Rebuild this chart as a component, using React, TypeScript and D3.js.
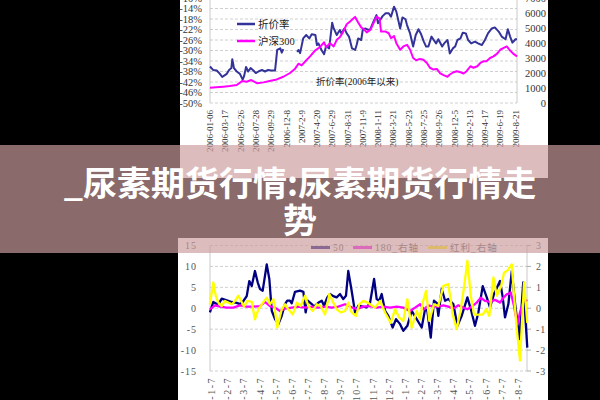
import { useEffect, useRef } from 'react';
import * as d3 from 'd3';

type Pt = [number, number];

// ---- top chart: weekly, week 0 = 2006-01-06 ----
const topDateLabels = [
  '2006-01-06', '2006-03-17', '2006-05-26', '2006-07-28', '2006-09-29',
  '2006-12-8', '2007-2-9', '2007-4-20', '2007-6-29', '2007-8-31',
  '2007-11-9', '2008-1-11', '2008-3-21', '2008-5-23', '2008-7-25',
  '2008-9-26', '2008-12-5', '2009-2-13', '2009-4-17', '2009-6-19', '2009-8-21',
];
const topLeftTicks = [-10, -14, -18, -22, -26, -30, -34, -38, -42, -46, -50];
const topRightTicks = [0, 1000, 2000, 3000, 4000, 5000, 6000, 7000];

// 折价率 [week, %] (null = gap)
const discountRate: (Pt | null)[] = [
  [0, -36.1], [2, -37.4], [4.4, -37.6], [6.5, -38.9], [8, -40.1], [9.5, -39.5],
  [11, -38.9], [12.5, -37.4], [14, -36.7], [14.6, -33.3], [15.7, -36.7], [17.5, -38],
  [19.6, -38.9], [21.4, -41.1], [22.3, -39.8], [23.6, -36.3], [25, -38], [26.6, -36.7],
  [28.4, -37.6], [30, -38.6], [31.7, -38], [34, -37.4], [36, -38], [38, -37.4],
  [40, -37.6], [42.6, -37.6], [44, -29.8], [46, -29.2], [47, -30.8], [48, -29.5],
  null,
  [57, -30.5], [58, -29.8], [59, -31], [61, -25.4], [63, -24.1], [65, -25.4],
  [66.6, -23.8], [69, -24.1], [70, -27.9], [71, -27.3], [73, -29.8], [74.7, -31.4],
  [76, -28.3], [78, -29.2], [80, -19.4], [81, -21.6], [83, -24.1], [85, -22.2],
  [86, -23.5], [88, -21.6], [89.5, -23.5], [91, -24.7], [93, -29.2], [95, -29.8],
  [96, -27.9], [97, -25.4], [99, -26], [100, -22.2], [101.5, -21.6], [104, -22.2],
  [105, -21.9], [107, -19], [109, -16.5], [110, -19.6], [113, -16.9], [115, -15.8],
  [117, -15.8], [118.5, -17.1], [120.5, -13.3], [122, -15.2], [124.5, -21.6], [126, -17.4],
  [128, -18.1], [129, -20.3], [131, -23.5], [133, -28.5], [134.7, -24.1], [136.5, -21.9],
  [138, -23.5], [140, -26.6], [141.5, -28.5], [143, -28.5], [145, -24.7], [146.5, -26],
  [148, -27.3], [149.5, -25.7], [152, -28.5], [153.3, -27.3], [155.5, -26], [157, -31.1],
  [159, -29.2], [160.5, -28.5], [162, -26], [164, -25.4], [165.5, -23.2], [167.5, -23.5],
  [169, -26], [171, -27.3], [173.5, -26.6], [175.5, -27.3], [178, -27.9], [180, -26],
  [182, -23.5], [184.5, -21.6], [186.5, -21.2], [189, -22.8], [191, -24.7], [193.5, -25.7],
  [195, -21.9], [196.5, -24.7], [198, -27], [200, -25.7], [201, -25.7],
];

// 沪深300 [week, index]
const hs300: Pt[] = [
  [0, 1020], [4, 1050], [8.7, 1087], [13, 1130], [17.5, 1200], [21, 1460], [24, 1420],
  [27, 1530], [31, 1310], [35, 1375], [39, 1460], [43.7, 1570], [48, 1750], [52.4, 2000],
  [55.7, 2290], [58, 2620], [60, 2510], [62, 2730], [65.5, 3110], [68.8, 3500], [72, 3720],
  [74.7, 4050], [76, 3720], [78.6, 3990], [81, 3770], [83, 4210], [85, 4380], [87, 4710],
  [89.5, 5250], [91.7, 5430], [93.5, 5600], [95, 5740], [97, 5370], [99, 5040], [101, 4900],
  [102.6, 4710], [105, 4870], [107, 5310], [109, 5750], [111, 5640], [112, 4760], [115, 4760],
  [117, 4650], [118.5, 4320], [120.5, 4470], [122, 3990], [124.5, 3550], [126.6, 3770],
  [129, 3880], [131, 3550], [133, 3000], [135, 2850], [137.5, 2940], [139.7, 2890],
  [142, 2670], [144, 2350], [146.3, 2230], [148.5, 2270], [150.7, 1970], [153.3, 1840],
  [155.5, 1750], [157, 1900], [159.4, 2050], [161.6, 2120], [164, 2050], [166, 1970],
  [168, 2120], [170.5, 2450], [172.5, 2350], [175, 2450], [177, 2670], [179, 2780],
  [181, 2780], [183.4, 3000], [185.6, 3110], [188, 3290], [190, 3550], [192, 3660],
  [194.3, 3770], [196, 3550], [198.5, 3290], [201, 3110],
];

// ---- bottom chart: monthly, month 0 = 2008-1-7 ----
const bottomDateLabels = [
  '2008-1-7', '2008-2-7', '2008-3-7', '2008-4-7', '2008-5-7', '2008-6-7', '2008-7-7',
  '2008-8-7', '2008-9-7', '2008-10-7', '2008-11-7', '2008-12-7', '2009-1-7', '2009-2-7',
  '2009-3-7', '2009-4-7', '2009-5-7', '2009-6-7', '2009-7-7', '2009-8-7',
];
const bottomLeftTicks = [15, 10, 5, 0, -5, -10, -15];
const bottomRightTicks = [3, 2, 1, 0, -1, -2, -3];
const bottomLegend = ['50', '180_右轴', '红利_右轴'];

// 50 [month, value] left axis
const idx50: Pt[] = [
  [-0.11, -1.0], [0.1, 1.5], [0.31, 1.0], [0.47, 1.3], [0.62, 2.3], [0.93, 1.9], [1.24, 1.5],
  [1.55, 1.3], [1.75, 1.0], [1.92, 1.5], [2.17, 2.9], [2.33, 6.5], [2.48, 5.3], [2.68, 8.9],
  [2.85, 6.2], [2.99, 4.6], [3.16, 4.2], [3.41, 10.5], [3.57, 7.0], [3.72, -0.6], [3.92, -2.6],
  [4.13, -3.8], [4.34, -1.8], [4.54, 1.0], [4.68, 1.8], [4.85, 1.8], [4.96, 1.2], [5.16, 3.9],
  [5.47, 4.2], [5.68, 3.9], [5.82, -1.0], [5.95, 1.8], [6.2, 1.0], [6.34, 0.4], [6.6, 1.3],
  [6.82, 1.8], [6.96, 0.6], [7.16, 2.6], [7.33, 3.4], [7.53, 2.9], [7.74, 2.6], [7.95, 3.4],
  [8.15, 2.2], [8.32, 3.0], [8.46, 8.9], [8.67, 4.2], [8.88, -1.0], [9.08, 0.6], [9.36, 0.4],
  [9.6, 0.2], [9.81, 1.3], [10.06, 7.0], [10.22, 2.2], [10.38, 1.8], [10.53, 3.4], [10.74, -0.6],
  [10.94, -1.8], [11.21, -4.6], [11.42, -2.6], [11.67, -3.8], [11.87, -5.4], [12.12, -4.2],
  [12.39, -0.6], [12.7, -2.6], [13.01, -4.6], [13.22, -0.2], [13.36, -0.6], [13.57, -7.0],
  [13.77, 1.8], [13.94, 1.3], [14.04, -1.8], [14.25, 4.6], [14.46, 1.8], [14.66, 2.2],
  [14.97, 1.0], [15.22, -4.2], [15.49, -1.8], [15.84, 2.6], [16.05, -0.2], [16.31, -4.2],
  [16.52, -1.0], [16.79, 5.3], [17.04, 2.6], [17.24, 0.2], [17.49, 3.4], [17.86, 6.5],
  [18.03, 2.6], [18.17, -2.2], [18.38, 1.0], [18.59, 8.9], [18.79, 1.3], [19.06, -7.4],
  [19.3, 6.2], [19.55, -9.4],
];

// 180 [month, value] right axis
const idx180: Pt[] = [
  [-0.11, -0.05], [0.2, 0.14], [0.51, 0.08], [0.93, 0.03], [1.34, 0.03], [1.75, 0.14],
  [2.17, 0.08], [2.58, 0.08], [2.99, 0.1], [3.3, 0.3], [3.61, 0.1], [3.92, 0.03], [4.23, -0.13],
  [4.54, -0.02], [4.96, 0.03], [5.37, 0.08], [5.78, 0.03], [6.2, 0.08], [6.6, 0.03], [7.02, 0.08],
  [7.43, 0.03], [7.84, 0.08], [8.26, 0.19], [8.57, 0.08], [8.98, -0.05], [9.39, 0.08], [9.81, 0.1],
  [10.22, 0.03], [10.63, 0.08], [11.05, 0.03], [11.46, 0.08], [11.87, 0.03], [12.29, -0.13],
  [12.6, 0.03], [12.91, 0.19], [13.15, -0.05], [13.42, 0.14], [13.73, 0.08], [14.04, 0.08],
  [14.35, 0.14], [14.66, 0.08], [14.97, -0.02], [15.28, 0.14], [15.59, 0.03], [15.84, -0.05],
  [16.11, 0.08], [16.42, 0.27], [16.67, 0.5], [16.93, 0.35], [17.24, 0.3], [17.55, 0.4],
  [17.86, 0.27], [18.07, 0.5], [18.28, 0.67], [18.53, 0.75], [18.73, 0.11], [18.93, -0.77],
  [19.1, -0.2], [19.35, 0.43], [19.55, 0.35],
];

// 红利 [month, value] right axis
const dividend: Pt[] = [
  [-0.11, 0.19], [0.1, 1.23], [0.25, 0.59], [0.41, 0.27], [0.62, 0.1], [0.82, 0.35], [1.03, 0.27],
  [1.24, 0.19], [1.44, 0.35], [1.65, 0.6], [1.86, 0.3], [2.0, 0.08], [2.21, 0.35], [2.48, 0.3],
  [2.68, -0.53], [2.89, -0.05], [3.1, 0.19], [3.41, 0.5], [3.61, 0.19], [3.82, 0.43], [4.06, -0.93],
  [4.34, -0.05], [4.54, 0.19], [4.75, -0.05], [5.02, -0.3], [5.27, 0.27], [5.51, 0.11], [5.78, 0.6],
  [5.99, 0.1], [6.26, -0.13], [6.51, 0.19], [6.75, 0.11], [7.02, -0.3], [7.29, 0.68], [7.53, 0.27],
  [7.74, -0.05], [7.99, -0.2], [8.26, -0.13], [8.46, 0.27], [8.67, -0.2], [8.94, -0.37], [9.14, 0.19],
  [9.39, 0.35], [9.64, 0.27], [9.81, 0.19], [10.12, 0.03], [10.43, 0.35], [10.74, -0.2], [11.09, -0.7],
  [11.36, -0.05], [11.62, -0.45], [11.87, -0.6], [12.12, 0.43], [12.39, -0.93], [12.7, -0.13],
  [12.91, -0.53], [13.07, 0.27], [13.28, 0.83], [13.48, -0.6], [13.77, 0.19], [14.04, 0.11],
  [14.35, 1.07], [14.66, 1.15], [14.93, -0.3], [15.18, -1.0], [15.43, -0.05], [15.63, 1.0],
  [15.84, 2.27], [16.05, 0.6], [16.25, -0.3], [16.52, -0.3], [16.79, -0.3], [17.0, -0.05],
  [17.2, -0.37], [17.45, 1.47], [17.66, 0.6], [17.91, 1.0], [18.11, 1.7], [18.32, 1.8], [18.59, 2.1],
  [18.73, 0.6], [18.9, -1.0], [19.1, -2.5], [19.35, 1.23], [19.55, -0.7],
];

const bannerLines = ['_尿素期货行情:尿素期货行情走', '势'];

const serif = '"Liberation Serif", "Noto Sans CJK SC", serif';

export default function App() {
  const ref = useRef<SVGSVGElement | null>(null);

  useEffect(() => {
    const svg = d3.select(ref.current);
    svg.selectAll('*').remove();

    svg.append('rect').attr('width', 600).attr('height', 400).attr('fill', '#000');
    svg.append('rect').attr('x', 180).attr('y', 0).attr('width', 368).attr('height', 178).attr('fill', '#fff');
    svg.append('rect').attr('x', 178).attr('y', 238).attr('width', 370).attr('height', 162).attr('fill', '#fff');

    // ---------- top chart ----------
    const tx = d3.scaleLinear().domain([0, 201]).range([210, 517]);
    const tyL = d3.scaleLinear().domain([-50, -10]).range([103, -2]);
    const tyR = d3.scaleLinear().domain([0, 7000]).range([103, -2]);
    const top = svg.append('g');

    top.selectAll('line.grid').data(topLeftTicks).enter().append('line')
      .attr('x1', 210).attr('x2', 517)
      .attr('y1', (d) => tyL(d)).attr('y2', (d) => tyL(d))
      .attr('stroke', '#c4c4c4').attr('stroke-width', 0.8).attr('stroke-dasharray', '3,2');
    [210, 517].forEach((x) => {
      top.append('line').attr('x1', x).attr('x2', x).attr('y1', -2).attr('y2', 103)
        .attr('stroke', '#bdbdbd').attr('stroke-width', 0.8);
    });

    top.selectAll('text.yl').data(topLeftTicks).enter().append('text')
      .attr('x', 202).attr('y', (d) => tyL(d)).attr('dy', '0.35em')
      .attr('text-anchor', 'end').attr('font-family', serif).attr('font-size', 10.5)
      .attr('fill', '#333').text((d) => `${d}%`);
    top.selectAll('text.yr').data(topRightTicks).enter().append('text')
      .attr('x', 546).attr('y', (d) => tyR(d)).attr('dy', '0.35em')
      .attr('text-anchor', 'end').attr('font-family', serif).attr('font-size', 10.5)
      .attr('fill', '#333').text((d) => `${d}`);
    top.selectAll('text.xl').data(topDateLabels).enter().append('text')
      .attr('transform', (_d, i) => `translate(${tx(i * 10)},110) rotate(-90)`)
      .attr('dy', '0.35em').attr('text-anchor', 'end')
      .attr('font-family', serif).attr('font-size', 9).attr('fill', '#333')
      .text((d) => d);

    const lineL = d3.line<Pt | null>()
      .defined((d) => d !== null)
      .x((d) => tx((d as Pt)[0])).y((d) => tyL((d as Pt)[1]));
    const lineR = d3.line<Pt>().x((d) => tx(d[0])).y((d) => tyR(d[1]));

    top.append('path').attr('d', lineL(discountRate)).attr('fill', 'none')
      .attr('stroke', '#333399').attr('stroke-width', 2).attr('stroke-linejoin', 'round');
    top.append('path').attr('d', lineR(hs300)).attr('fill', 'none')
      .attr('stroke', '#ff00ff').attr('stroke-width', 2).attr('stroke-linejoin', 'round');

    // legend
    const topLegend = [
      { name: '折价率', color: '#333399', y: 24 },
      { name: '沪深300', color: '#ff00ff', y: 41 },
    ];
    topLegend.forEach((l) => {
      top.append('line').attr('x1', 237).attr('x2', 255).attr('y1', l.y).attr('y2', l.y)
        .attr('stroke', l.color).attr('stroke-width', 2.5);
      top.append('text').attr('x', 258).attr('y', l.y).attr('dy', '0.35em')
        .attr('font-family', serif).attr('font-size', 10.5).attr('fill', '#222').text(l.name);
    });
    top.append('text').attr('x', 316).attr('y', 82).attr('dy', '0.35em')
      .attr('font-family', serif).attr('font-size', 9.5).attr('fill', '#222')
      .text('折价率(2006年以来)');

    // ---------- bottom chart ----------
    const bx = d3.scaleLinear().domain([0, 19]).range([211.7, 518.4]);
    const byL = d3.scaleLinear().domain([-15, 15]).range([371, 245.5]);
    const byR = d3.scaleLinear().domain([-3, 3]).range([371, 245.5]);
    const bot = svg.append('g');

    bot.selectAll('line.grid').data(bottomLeftTicks).enter().append('line')
      .attr('x1', 210).attr('x2', 527)
      .attr('y1', (d) => byL(d)).attr('y2', (d) => byL(d))
      .attr('stroke', '#c4c4c4').attr('stroke-width', 0.8).attr('stroke-dasharray', '3,2');
    [210, 527].forEach((x) => {
      bot.append('line').attr('x1', x).attr('x2', x).attr('y1', 245.5).attr('y2', 371)
        .attr('stroke', '#bdbdbd').attr('stroke-width', 0.8);
    });
    bot.selectAll('line.rt').data(bottomRightTicks).enter().append('line')
      .attr('x1', 527).attr('x2', 531).attr('y1', (d) => byR(d)).attr('y2', (d) => byR(d))
      .attr('stroke', '#999').attr('stroke-width', 0.8);

    bot.selectAll('text.yl').data(bottomLeftTicks).enter().append('text')
      .attr('x', 197).attr('y', (d) => byL(d)).attr('dy', '0.35em')
      .attr('text-anchor', 'end').attr('font-family', serif).attr('font-size', 10)
      .attr('letter-spacing', 1).attr('fill', '#555').text((d) => `${d}`);
    bot.selectAll('text.yr').data(bottomRightTicks).enter().append('text')
      .attr('x', 536).attr('y', (d) => byR(d)).attr('dy', '0.35em')
      .attr('font-family', serif).attr('font-size', 10)
      .attr('letter-spacing', 1).attr('fill', '#555').text((d) => `${d}`);
    bot.selectAll('text.xl').data(bottomDateLabels).enter().append('text')
      .attr('transform', (_d, i) => `translate(${bx(i)},377) rotate(-90)`)
      .attr('dy', '0.35em').attr('text-anchor', 'end')
      .attr('font-family', serif).attr('font-size', 10).attr('letter-spacing', 1.5)
      .attr('fill', '#555').text((d) => d);

    const l50 = d3.line<Pt>().x((d) => bx(d[0])).y((d) => byL(d[1]));
    const lR = d3.line<Pt>().x((d) => bx(d[0])).y((d) => byR(d[1]));
    const colors = ['#000080', '#ff00ff', '#ffff00'];
    [l50(idx50), lR(idx180), lR(dividend)].forEach((p, i) => {
      bot.append('path').attr('d', p).attr('fill', 'none')
        .attr('stroke', colors[i]).attr('stroke-width', 2.3).attr('stroke-linejoin', 'round');
    });

    const legendX = [311, 353, 428];
    bottomLegend.forEach((name, i) => {
      bot.append('line').attr('x1', legendX[i]).attr('x2', legendX[i] + 19)
        .attr('y1', 247.5).attr('y2', 247.5).attr('stroke', colors[i]).attr('stroke-width', 3);
      bot.append('text').attr('x', legendX[i] + 22).attr('y', 247.5).attr('dy', '0.35em')
        .attr('font-family', serif).attr('font-size', 9.5).attr('letter-spacing', 1)
        .attr('fill', '#555').text(name);
    });

    // ---------- banner ----------
    svg.append('rect').attr('x', 0).attr('y', 145).attr('width', 600).attr('height', 108)
      .attr('fill', 'rgb(204,156,156)').attr('fill-opacity', 0.68);
    bannerLines.forEach((t, i) => {
      svg.append('text').attr('x', 300).attr('y', 196 + i * 37)
        .attr('text-anchor', 'middle').attr('font-family', '"Noto Sans CJK SC", sans-serif')
        .attr('font-weight', 700).attr('font-size', 34).attr('fill', '#fff').text(t);
    });
  }, []);

  return (
    <svg
      ref={ref}
      width={600}
      height={400}
      style={{ position: 'absolute', left: 0, top: 0, display: 'block' }}
    />
  );
}
